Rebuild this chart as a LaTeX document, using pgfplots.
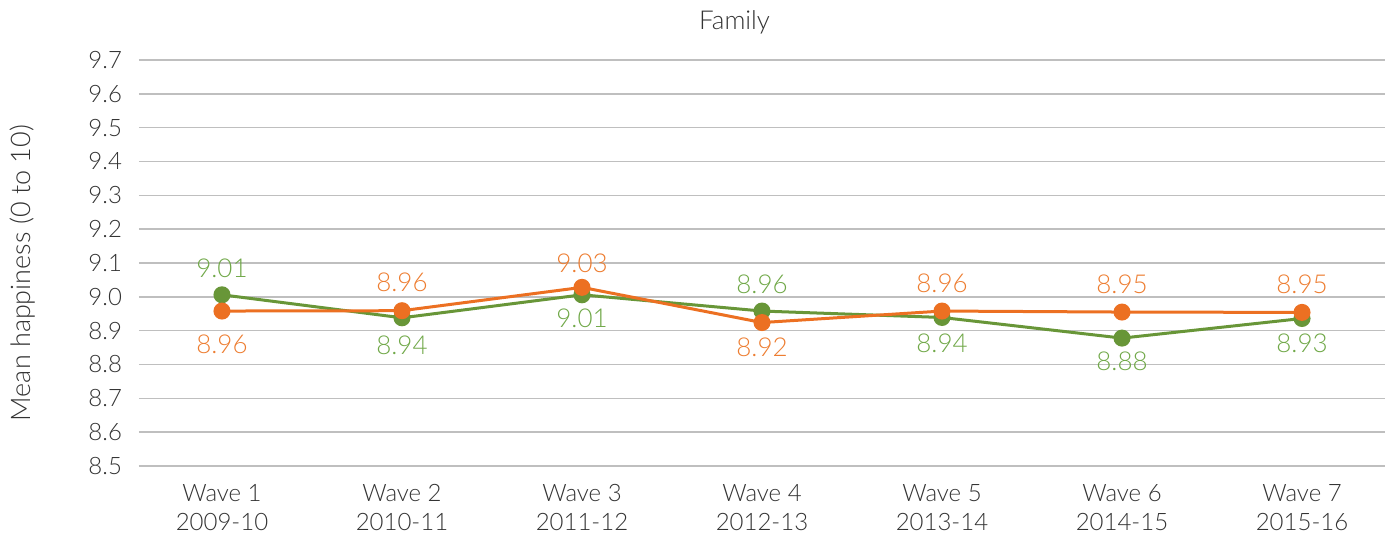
\documentclass[border=0pt]{standalone}
\usepackage{fontspec}
\setmainfont{Lato}[UprightFont=* Light]
\usepackage{pgfplots}
\pgfplotsset{compat=1.18}
\definecolor{gline}{RGB}{104,150,56}
\definecolor{oline}{RGB}{236,112,34}
\definecolor{glab}{RGB}{112,168,72}
\definecolor{olab}{RGB}{237,125,49}
\definecolor{gridc}{RGB}{191,191,191}
\definecolor{txt}{RGB}{51,51,51}
\begin{document}
\begin{tikzpicture}
\useasboundingbox (-69.5pt,-37.5pt) rectangle (626.5pt,233pt);
\begin{axis}[
  scale only axis, width=623pt, height=203pt,
  xmin=0.539, xmax=7.461, ymin=8.5, ymax=9.7,
  ytick={8.5,8.6,...,9.71},
  yticklabel style={/pgf/number format/fixed,/pgf/number format/fixed zerofill,/pgf/number format/precision=1},
  /pgf/number format/assume math mode=true,
  xtick={1,...,7},
  xticklabels={{Wave 1\\2009-10},{Wave 2\\2010-11},{Wave 3\\2011-12},{Wave 4\\2012-13},{Wave 5\\2013-14},{Wave 6\\2014-15},{Wave 7\\2015-16}},
  xticklabel style={align=center, font=\fontsize{12}{14.5}\selectfont, text=txt, yshift=-5.5pt},
  yticklabel style={font=\fontsize{12}{14}\selectfont, text=txt, xshift=-5pt},
  axis line style={draw=none},
  xmajorgrids=false, ymajorgrids=true, grid style={draw=gridc, line width=0.75pt},
  major tick length=0pt,
  clip=false,
  nodes near coords={\pgfplotspointmeta},
  point meta=explicit symbolic,
  visualization depends on={\thisrow{dy}\as\dy},
  every node near coord/.append style={anchor=center, yshift=\dy pt, font=\fontsize{13}{15}\selectfont},
]
\draw[gridc, line width=0.75pt] (rel axis cs:0,0) -- (rel axis cs:1,0);
\addplot[gline, line width=1.5pt, mark=*, mark size=3.5pt, mark options={fill=gline, draw=gline},
  every node near coord/.append style={text=glab}]
  table[x=x, y=y, meta=lab] {
x y lab dy
1 9.006 9.01 13.5
2 8.938 8.94 -13.5
3 9.006 9.01 -11.5
4 8.958 8.96 13.5
5 8.939 8.94 -13
6 8.878 8.88 -11.5
7 8.936 8.93 -12.5
};
\addplot[oline, line width=1.5pt, mark=*, mark size=3.5pt, mark options={fill=oline, draw=oline},
  every node near coord/.append style={text=olab}]
  table[x=x, y=y, meta=lab] {
x y lab dy
1 8.958 8.96 -16.5
2 8.959 8.96 14
3 9.028 9.03 12
4 8.924 8.92 -12.5
5 8.958 8.96 14
6 8.955 8.95 14
7 8.954 8.95 14
};
\node[font=\fontsize{13}{15}\selectfont, text=txt] at ([yshift=19pt]rel axis cs:0.478,1) {Family};
\node[font=\fontsize{13.5}{15}\selectfont, text=txt, rotate=90] at ([xshift=-58pt]rel axis cs:0,0.475) {Mean happiness (0 to 10)};
\end{axis}
\end{tikzpicture}
\end{document}
